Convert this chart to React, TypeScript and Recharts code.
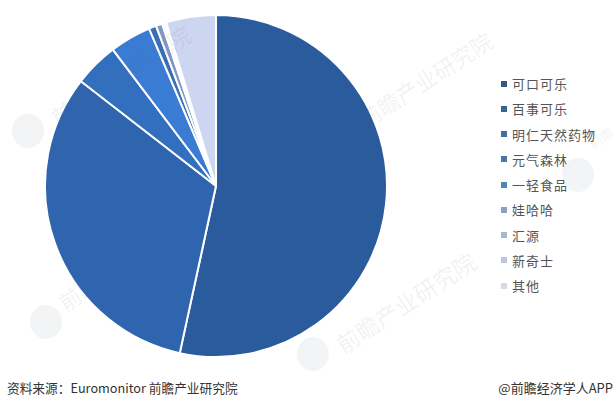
import { PieChart, Pie, Cell } from 'recharts';

const brands = ['可口可乐', '百事可乐', '明仁天然药物', '元气森林', '一轻食品', '娃哈哈', '汇源', '新奇士', '其他'];
const shares = [53.4, 32.1, 4.2, 3.9, 0.7, 0.6, 0.2, 0.2, 4.7];
const sliceColors = ['#2a5b9c', '#2f65ae', '#3270bf', '#3a7cd4', '#3a6fb4', '#7f98c8', '#b8c5e5', '#e5ebf8', '#ccd6f0'];
const legendColors = ['#35587f', '#386490', '#3f6f9c', '#4a76a2', '#4f84b8', '#8aa2bf', '#a8b6cf', '#bcc5d9', '#d5dae6'];
const watermarks = [
  { x: 40, y: 58, size: 23, label: '前瞻产业研究院' },
  { x: 348, y: 63, size: 22, label: '前瞻产业研究院' },
  { x: 48, y: 246, size: 22, label: '前瞻产业研究院' },
  { x: 325, y: 285, size: 23, label: '前瞻产业研究院' },
  { x: 588, y: 128, size: 13, label: '前瞻' },
];
const logos = [
  { x: 12, y: 114 },
  { x: 30, y: 305 },
  { x: 297, y: 337 },
  { x: 562, y: 158 },
];

const rows = brands.map((name, i) => ({ name, value: shares[i] }));
const fontFamily = '"Noto Sans CJK SC", sans-serif';

export default function App() {
  return (
    <div style={{ position: 'absolute', left: 0, top: 0, width: 616, height: 407, background: '#fff', overflow: 'hidden' }}>
      <PieChart width={616} height={372} margin={{ top: 0, right: 0, bottom: 0, left: 0 }}>
        <Pie
          data={rows}
          dataKey="value"
          nameKey="name"
          cx={216}
          cy={186}
          innerRadius={0}
          outerRadius={171}
          startAngle={90}
          endAngle={-270}
          stroke="#fff"
          strokeWidth={2}
          isAnimationActive={false}
        >
          {rows.map((row, i) => (
            <Cell key={row.name} fill={sliceColors[i]} />
          ))}
        </Pie>
      </PieChart>
      <div style={{ position: 'absolute', left: 501, top: 71, fontFamily, fontSize: 13, letterSpacing: 1, color: '#555' }}>
        {rows.map((row, i) => (
          <div key={row.name} style={{ display: 'flex', alignItems: 'center', height: 25.25, whiteSpace: 'nowrap' }}>
            <span style={{ width: 6, height: 6, flexShrink: 0, marginRight: 5, background: legendColors[i] }} />
            {row.name}
          </div>
        ))}
      </div>
      {logos.map((l) => (
        <div
          key={l.x + '-' + l.y}
          style={{
            position: 'absolute',
            left: l.x,
            top: l.y,
            width: 32,
            height: 34,
            borderRadius: '50%',
            background: 'rgba(90,100,110,0.07)',
          }}
        />
      ))}
      {watermarks.map((w) => (
        <div
          key={w.x + '-' + w.y}
          style={{
            position: 'absolute',
            left: w.x,
            top: w.y,
            fontFamily,
            fontSize: w.size,
            color: 'rgba(90,100,110,0.09)',
            transform: 'rotate(-33deg)',
            whiteSpace: 'nowrap',
            pointerEvents: 'none',
          }}
        >
          {w.label}
        </div>
      ))}
      <div style={{ position: 'absolute', left: 7, top: 378, fontFamily, fontSize: 12.7, color: '#333', whiteSpace: 'nowrap' }}>
        资料来源：Euromonitor 前瞻产业研究院
      </div>
      <div style={{ position: 'absolute', right: 3, top: 378, fontFamily, fontSize: 13, color: '#333', whiteSpace: 'nowrap' }}>
        @前瞻经济学人APP
      </div>
    </div>
  );
}
